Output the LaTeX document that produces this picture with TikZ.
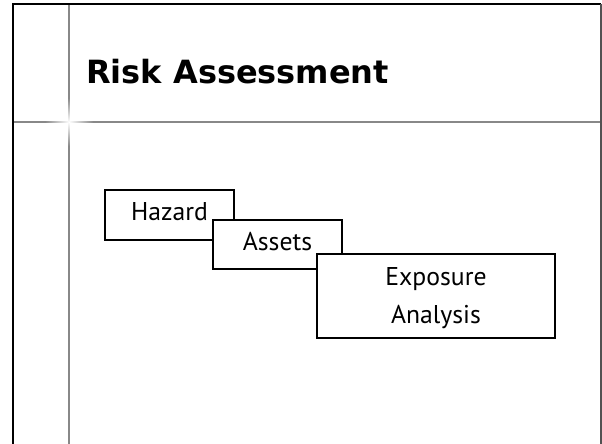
\documentclass[tikz,border=0pt]{standalone}
\usepackage{fontspec}
\setmainfont{DejaVu Sans}
\newfontfamily\boxfont{PT Sans}
\usetikzlibrary{fadings}
\tikzfading[name=glowfade, inner color=transparent!0, outer color=transparent!100]
\definecolor{rule}{HTML}{888888}
\tikzset{
  stage/.style={draw=black, line width=2pt, fill=white, inner sep=0pt, font=\boxfont\fontsize{25.7}{38}\selectfont, align=center},
}
\begin{document}
\begin{tikzpicture}[x=1pt,y=-1pt]
\useasboundingbox (0,0) rectangle (602,444);
% frame
\draw[rule, line width=1.8pt] (69,4) -- (69,444);
\draw[rule, line width=2.2pt] (14,122) -- (601,122);
\fill[white, path fading=glowfade] (69,122) circle (24);
\draw[black, line width=2.2pt] (13,444) -- (13,4) -- (601,4);
\draw[rule!60!black, line width=1.8pt] (601,4) -- (601,444);
% title
\node[anchor=base west, inner sep=0pt, font=\fontsize{32}{36}\selectfont\bfseries] (title) at (86,84) {Risk Assessment};
% boxes
\node[stage, minimum width=129, minimum height=50, text height=20pt, text depth=9pt] (haz) at (169.5,215) {Hazard};
\node[stage, minimum width=129, minimum height=49, text height=20pt, text depth=9pt] (ass) at (277.5,244.5) {Assets};
\node[stage, minimum width=238, minimum height=84, text height=60pt, text depth=6pt] (exp) at (436,296) {Exposure\\Analysis};
\end{tikzpicture}
\end{document}
